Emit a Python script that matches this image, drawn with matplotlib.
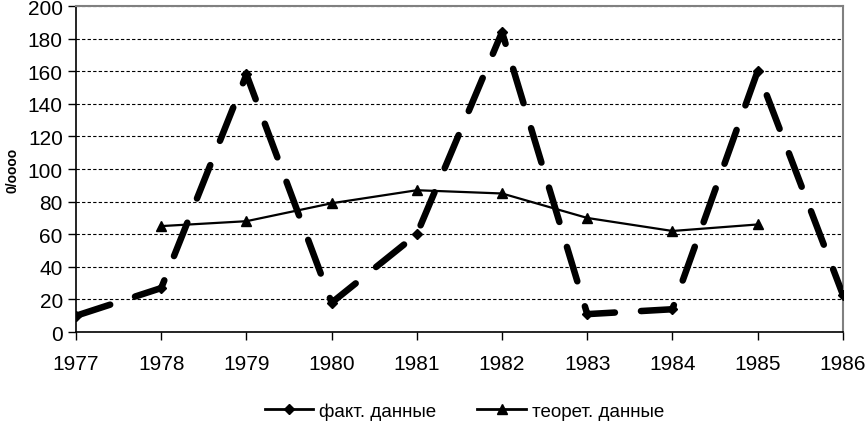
import numpy as np
import matplotlib.pyplot as plt
from matplotlib.lines import Line2D

plt.rcParams['font.family'] = ['Liberation Sans', 'DejaVu Sans']

years = [1977, 1978, 1979, 1980, 1981, 1982, 1983, 1984, 1985, 1986]
fact = [10, 27, 158, 18, 60, 184, 11, 14, 160, 23]
theor_years = [1978, 1979, 1980, 1981, 1982, 1983, 1984, 1985]
theor = [65, 68, 79, 87, 85, 70, 62, 66]

fig = plt.figure(figsize=(8.68, 4.27), dpi=100)
ax = fig.add_axes([0.0876, 0.220, 0.8834, 0.7636])

ax.plot(years, fact, color='black', lw=4.7, dashes=(5.5, 4),
        dash_capstyle='round', marker='D', markersize=5, zorder=3)
ax.plot(theor_years, theor, color='black', lw=1.6, marker='^',
        markersize=7, zorder=4)

ax.set_xlim(1977, 1986)
ax.set_ylim(0, 200)
ax.set_xticks(years)
ax.set_yticks(np.arange(0, 201, 20))
ax.tick_params(axis='both', labelsize=15, direction='out', length=6, width=1)
ax.tick_params(axis='x', pad=10)
ax.yaxis.grid(True, linestyle=(0, (3, 2)), color='black', lw=0.8)
ax.set_axisbelow(True)
for s in ['top', 'right']:
    ax.spines[s].set_color('gray')
    ax.spines[s].set_linewidth(1.5)
for s in ['left', 'bottom']:
    ax.spines[s].set_linewidth(1.2)
ax.set_ylabel('0/oooo', fontsize=10, fontweight='bold', labelpad=6)

h1 = Line2D([], [], color='black', lw=2, marker='D', markersize=5)
h2 = Line2D([], [], color='black', lw=2, marker='^', markersize=7)
fig.legend([h1, h2], ['факт. данные', 'теорет. данные'], loc='lower center',
           bbox_to_anchor=(0.535, -0.025), ncol=2, frameon=False, fontsize=13.5,
           handlelength=2.6, columnspacing=2.2, handletextpad=0.3)

fig.savefig('out.png', dpi=100)
